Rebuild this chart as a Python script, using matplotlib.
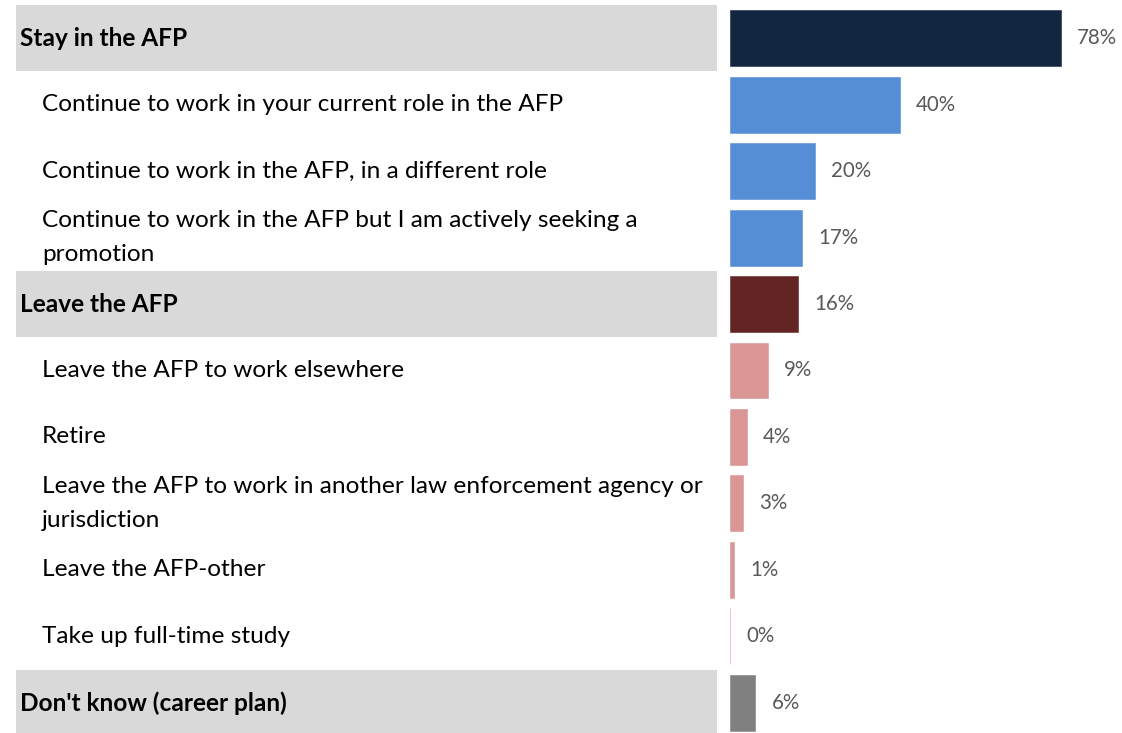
import matplotlib.pyplot as plt

labels = [
    "Stay in the AFP",
    "Continue to work in your current role in the AFP",
    "Continue to work in the AFP, in a different role",
    "Continue to work in the AFP but I am actively seeking a\npromotion",
    "Leave the AFP",
    "Leave the AFP to work elsewhere",
    "Retire",
    "Leave the AFP to work in another law enforcement agency or\njurisdiction",
    "Leave the AFP-other",
    "Take up full-time study",
    "Don't know (career plan)",
]
values = [78, 40, 20, 17, 16, 9, 4, 3, 1, 0, 6]
is_header = [True, False, False, False, True, False, False, False, False, False, True]
colors = ["#12263F", "#558ED5", "#558ED5", "#558ED5", "#632523",
          "#D99694", "#D99694", "#D99694", "#D99694", "#D99694", "#808080"]

W, H = 1122, 733
fig = plt.figure(figsize=(W / 100, H / 100), dpi=100)
plt.rcParams['font.family'] = ['Lato', 'DejaVu Sans']

# rows run from y=5px down to a little past the bottom edge
y_top, y_bot = 5, 736
ax_rect_y = (H - y_bot) / H
ax_h = (y_bot - y_top) / H
n = len(labels)

# left panel: labels with grey bands for the header rows
axl = fig.add_axes([16 / W, ax_rect_y, (717 - 16) / W, ax_h])
axl.set_xlim(0, 1)
axl.set_ylim(n - 0.5, -0.5)
axl.axis('off')
for i, (lab, hdr) in enumerate(zip(labels, is_header)):
    if hdr:
        axl.axhspan(i - 0.5, i + 0.5, color="#D9D9D9", lw=0)
        axl.text(4 / 701, i, lab, va='center', ha='left', fontsize=17.6,
                 fontweight='bold', color='black')
    else:
        axl.text(26 / 701, i, lab, va='center', ha='left', fontsize=17.6,
                 color='black', linespacing=1.8)

# right panel: bars
px_per_pct = (1061 - 730) / 78
axr = fig.add_axes([730 / W, ax_rect_y, (W - 730) / W, ax_h])
axr.set_xlim(0, (W - 730) / px_per_pct)
axr.set_ylim(n - 0.5, -0.5)
axr.axis('off')
ypos = list(range(n))
axr.barh(ypos, values, height=0.84, color=colors, edgecolor=colors, linewidth=0.4)
for y, v in zip(ypos, values):
    axr.text(v + 16 / px_per_pct, y, f"{v}%", va='center', ha='left',
             fontsize=14.8, color='#595959')

fig.savefig("out.png", dpi=100)
